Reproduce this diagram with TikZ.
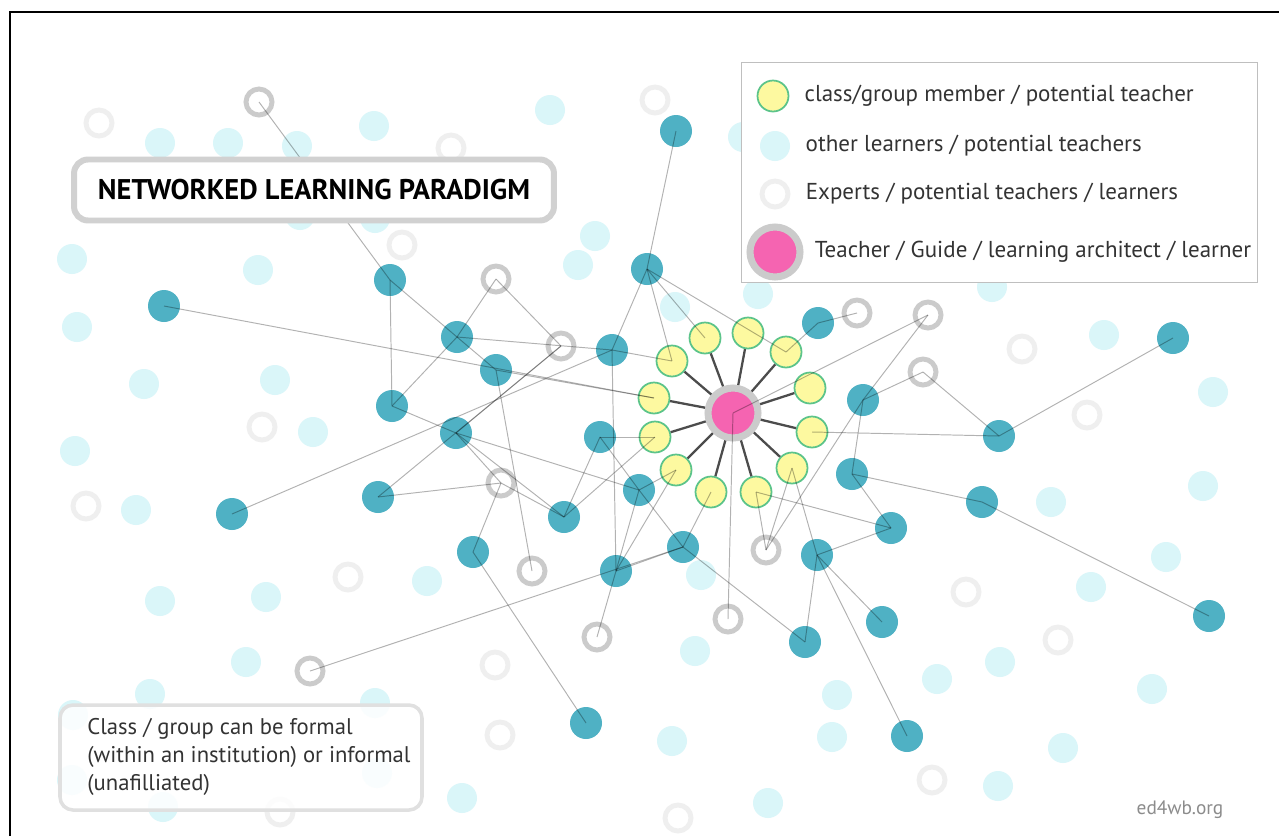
\documentclass[tikz,border=0pt]{standalone}
\usepackage{fontspec}
\setmainfont{PT Sans}
\usepackage{xcolor}
\usepackage{tikz}
\usetikzlibrary{positioning}
\definecolor{tealdot}{HTML}{4FB1C4}
\definecolor{paledot}{HTML}{DAF6F9}
\definecolor{ringdark}{HTML}{CBCBCB}
\definecolor{ringpale}{HTML}{EFEFEF}
\definecolor{memberfill}{HTML}{FDF9A0}
\definecolor{memberline}{HTML}{5CC48A}
\definecolor{teachpink}{HTML}{F564B1}
\definecolor{inkgray}{HTML}{333333}
\tikzstyle{learner} = [circle, fill=tealdot, minimum size=0.64cm, inner sep=0pt]
\tikzstyle{other} = [circle, fill=paledot, minimum size=0.6cm, inner sep=0pt]
\tikzstyle{expert} = [circle, draw=ringdark, line width=2.8pt, minimum size=0.52cm, inner sep=0pt]
\tikzstyle{farexpert} = [circle, draw=ringpale, line width=2.8pt, minimum size=0.52cm, inner sep=0pt]
\tikzstyle{member} = [circle, fill=memberfill, draw=memberline, line width=1pt, minimum size=0.62cm, inner sep=0pt]
\tikzstyle{teacher} = [circle, fill=teachpink, draw=ringdark, line width=4pt, minimum size=1.0cm, inner sep=0pt]
\tikzstyle{link} = [black, line width=0.55pt, opacity=0.3]
\tikzstyle{spoke} = [black!70, line width=1.3pt]
\tikzstyle{legendtext} = [inner sep=0pt, text=inkgray, font=\fontsize{13.1}{15}\selectfont]

\begin{document}
\begin{tikzpicture}[x=0.02cm, y=-0.02cm]
    \useasboundingbox (0,0) rectangle (1279,836);
    \fill[white] (0,0) rectangle (1279,836);

    % Frame
    \draw[line width=1.3pt] (10,836) -- (10,12) -- (1279,12);

    % Other learners
    \foreach \x/\y [count=\i] in {160/143, 228/143, 297/146, 374/126, 300/215, 375/218, 72/259, 258/270,
        550/110, 595/236, 578/265, 743/137, 77/327, 144/384, 275/380, 313/432, 75/451, 136/510,
        675/307, 758/294, 992/287, 1104/335, 1213/392, 1203/486, 1051/502, 1166/557,
        160/601, 266/597, 246/662, 150/694, 73/715, 375/703, 72/780, 163/807, 377/773,
        427/581, 701/575, 695/651, 672/741, 462/798, 768/803, 837/695, 832/737,
        1091/587, 937/679, 1000/662, 1152/689, 1063/748, 998/786}
        \node[other] (o\i) at (\x,\y) {};

    % Experts outside the network
    \foreach \x/\y [count=\i] in {99/123, 655/100, 451/148, 402/245, 262/427, 86/506, 348/577,
        1022/349, 1087/415, 966/592, 1058/640, 495/665, 500/735, 932/780, 678/818, 280/812}
        \node[farexpert] (f\i) at (\x,\y) {};

    % Connected learners
    \foreach \n/\x/\y in {t1/676/131, t2/647/269, t3/390/280, t4/164/306, t5/457/337, t6/496/370,
        t7/612/350, t8/392/406, t9/456/433, t10/600/437, t11/818/323, t12/863/400, t13/999/436,
        t14/1173/338, t15/232/514, t16/378/497, t17/564/517, t18/639/490, t19/683/547, t20/473/552,
        t21/616/571, t22/852/474, t23/891/528, t24/982/502, t25/817/555, t26/1209/616,
        t27/882/622, t28/805/642, t29/586/723, t30/907/736}
        \node[learner] (\n) at (\x,\y) {};

    % Connected experts
    \foreach \n/\x/\y in {g1/259/102, g2/496/279, g3/561/346, g4/857/313, g5/928/315, g6/923/372,
        g7/501/483, g8/532/571, g9/766/550, g10/728/619, g11/597/637, g12/310/671}
        \node[expert] (\n) at (\x,\y) {};

    % Teacher and class
    \node[teacher] (teach) at (733,413) {};
    \foreach \n/\x/\y in {y1/705/338, y2/748/333, y3/786/352, y4/810/388, y5/812/432, y6/792/468,
        y7/756/492, y8/711/492, y9/676/470, y10/655/437, y11/654/398, y12/672/361}
        \node[member] (\n) at (\x,\y) {};
    \foreach \i in {1,...,12}
        \draw[spoke] (teach) -- (y\i);

    % Links
    \foreach \a/\b in {g1/t3, t3/t8, t3/t5, t4/y11, t8/t5, t8/t9, t15/t7, t16/g3, t16/g7, g2/t5,
        g2/g3, t5/t6, t5/t7, t6/g8, t6/y11, t9/t17, t9/t18, t9/g3, g7/t20, g7/t17, g7/t9,
        t7/t2, t7/t21, t7/y12, t2/t1, t2/y12, t2/y1, t2/y3, t10/y10, t10/t17, t17/y10,
        t10/t18, t18/y9, t18/t19, t21/y9, t21/t18, t21/t19, t21/g11, g12/t19, t20/t29,
        t19/t28, t19/y8, teach/g10, g9/y7, g9/y6, g9/t12, t25/t28, t25/t27, t25/t23,
        t25/t30, t25/y6, t22/t12, t22/t23, t22/t24, t24/t26, t12/g6, g6/t13, t13/t14,
        t12/g5, teach/g5, y5/t13, t11/g4, t11/y3, y7/t23}
        \draw[link] (\a.center) -- (\b.center);

    % Title
    \node[rounded corners=0.28cm, draw=black!18, line width=3.4pt, fill=white,
        minimum width=9.6cm, minimum height=1.22cm, font=\bfseries\fontsize{16.2}{18}\selectfont]
        (title) at (314,190) {NETWORKED LEARNING PARADIGM};

    % Legend
    \node[draw=black!25, line width=1pt, fill=white, minimum width=10.32cm, minimum height=4.4cm]
        (legend) at (999.5,172.5) {};
    \node[member] (key1) at (773,96) {};
    \node[legendtext, right=0.3cm of key1] (key1txt) {class/group member / potential teacher};
    \node[other] (key2) at (775,146) {};
    \node[legendtext, right=0.3cm of key2] (key2txt) {other learners / potential teachers};
    \node[farexpert] (key3) at (775,194) {};
    \node[legendtext, right=0.3cm of key3] (key3txt) {Experts / potential teachers / learners};
    \node[teacher] (key4) at (775,252) {};
    \node[legendtext, right=0.22cm of key4] (key4txt) {Teacher / Guide / learning architect / learner};

    % Note
    \draw[rounded corners=0.26cm, draw=black!12, line width=2pt, fill=white, fill opacity=0.85]
        (60,705) rectangle (422,810);
    \node[anchor=north west, align=left, inner sep=0pt, text=inkgray,
        font=\fontsize{12.9}{16}\selectfont] (note) at (87,718)
        {Class / group can be formal\\(within an institution) or informal\\(unafilliated)};

    \node[text=black!45, font=\fontsize{11}{12}\selectfont] (site) at (1180,810) {ed4wb.org};
\end{tikzpicture}
\end{document}
